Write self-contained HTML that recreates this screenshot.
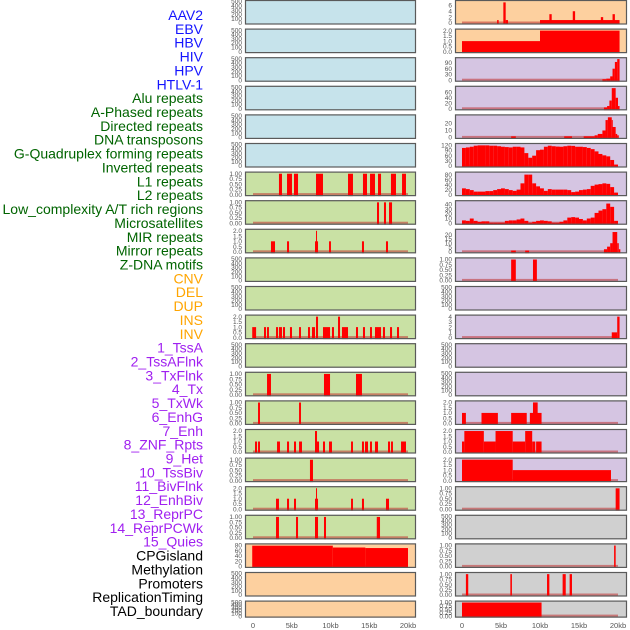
<!DOCTYPE html>
<html><head><meta charset="utf-8">
<style>
html,body{margin:0;padding:0;background:#fff;}
svg{display:block;font-family:"Liberation Sans",sans-serif;}
</style></head>
<body>
<svg id="chart" width="630" height="630" viewBox="0 0 630 630" xmlns="http://www.w3.org/2000/svg"></svg>
<script>
// ---- data ----
const featureLabels = ["AAV2","EBV","HBV","HIV","HPV","HTLV-1","Alu repeats","A-Phased repeats","Directed repeats","DNA transposons","G-Quadruplex forming repeats","Inverted repeats","L1 repeats","L2 repeats","Low_complexity A/T rich regions","Microsatellites","MIR repeats","Mirror repeats","Z-DNA motifs","CNV","DEL","DUP","INS","INV","1_TssA","2_TssAFlnk","3_TxFlnk","4_Tx","5_TxWk","6_EnhG","7_Enh","8_ZNF_Rpts","9_Het","10_TssBiv","11_BivFlnk","12_EnhBiv","13_ReprPC","14_ReprPCWk","15_Quies","CPGisland","Methylation","Promoters","ReplicationTiming","TAD_boundary"];
const labelGroups = [6,13,5,15,5];
const xTickLabels = ["0","5kb","10kb","15kb","20kb"];
const xTickValues = [0,5,10,15,20];

const emptyTicks = [0,100,200,300,400,500];
const t100 = [0,0.25,0.5,0.75,1];
const t2 = [0,0.5,1,1.5,2];

// left column
const leftYMax = [500,500,500,500,500,500,1.03,1.03,2.05,500,500,2.05,500,1.03,1.03,2.05,1.03,2.05,1.03,82,500,500];
const leftTicks = [emptyTicks,emptyTicks,emptyTicks,emptyTicks,emptyTicks,emptyTicks,t100,t100,t2,emptyTicks,emptyTicks,t2,emptyTicks,t100,t100,t2,t100,t2,t100,[0,20,40,60,80],emptyTicks,emptyTicks];
const leftDec = [0,0,0,0,0,0,2,2,1,0,0,1,0,2,2,1,2,1,2,0,0,0];
const leftL1 = [[3.35,3.74,1],[4.39,5.03,1],[5.29,5.81,1],[8.13,9.03,1],[12.26,12.9,1],[14.19,14.71,1],[15.1,15.74,1],[16.13,16.52,1],[17.8,18.45,1],[19.23,19.74,1]];
const leftLowC = [[16.0,16.26,1],[16.9,17.16,1],[17.55,17.94,1]];
const leftMIR = [[2.32,2.84,1],[4.39,4.65,1],[8.0,8.39,1],[8.13,8.26,2],[9.81,10.06,1],[14.06,14.32,1],[17.16,17.42,1]];
const leftINS = [[-0.1,0.4,1],[1.42,1.68,1],[1.81,2.06,1],[2.97,3.23,1],[3.35,3.74,1],[3.87,4.13,1],[4.77,5.03,1],[5.94,6.19,1],[7.1,7.35,1],[7.61,8.0,1],[8.13,8.39,2],[9.03,9.94,1],[10.19,10.45,1],[10.97,11.23,2],[11.48,12.26,1],[13.29,13.55,1],[14.19,14.45,1],[15.1,15.35,1],[15.74,16.52,1],[16.77,17.03,1],[17.68,17.94,1],[18.58,18.84,1]];
const leftTx = [[1.81,2.32,1],[9.16,9.94,1],[13.29,14.06,1]];
const leftTxWk = [[0.65,0.9,1],[5.94,6.19,1]];
const leftEnh = [[0.26,0.52,1],[0.65,0.9,1],[3.1,3.48,1],[4.39,4.65,1],[5.29,5.55,1],[5.94,6.32,1],[8.0,8.26,2],[8.26,8.52,1],[9.03,9.29,1],[9.81,10.19,1],[12.65,12.9,1],[14.06,14.32,1],[14.45,14.84,1],[15.1,15.35,1],[15.74,16.13,1],[17.42,17.68,1],[17.81,18.06,1],[19.1,19.74,1]];
const leftHet = [[7.35,7.74,1]];
const leftBivF = [[2.97,3.35,1],[4.39,4.65,1],[5.29,5.55,1],[8.0,8.39,1],[8.13,8.26,2],[12.65,12.9,1],[14.06,14.32,1],[17.16,17.55,1]];
const leftEnhBiv = [[2.97,3.35,1],[5.55,5.81,1],[8.0,8.39,1],[9.16,9.42,1],[15.97,16.39,1]];
const leftCPG = [[-0.1,10.3,79],[10.3,14.5,72],[14.5,20.0,70]];
const leftSeries = [null,null,null,null,null,null,leftL1,leftLowC,leftMIR,null,null,leftINS,null,leftTx,leftTxWk,leftEnh,leftHet,leftBivF,leftEnhBiv,leftCPG,null,null];

// right column
const rightYMax = [7.3,2.05,112,78,31,125,86,46,25,1.03,500,4.1,500,500,2.05,2.05,2.05,1.03,500,1.03,1.03,1.03];
const rightTicks = [[0,2,4,6],t2,[0,30,60,90],[0,20,40,60],[0,10,20],[0,30,60,90,120],[0,20,40,60,80],[0,10,20,30,40],[0,5,10,15,20],t100,emptyTicks,[0,1,2,3,4],emptyTicks,emptyTicks,t2,t2,t2,t100,emptyTicks,t100,t100,t100];
const rightDec = [0,1,0,0,0,0,0,0,0,2,0,0,0,0,1,1,1,2,0,2,2,2];
const rightAAV2 = [[4.5,4.7,1],[5.3,5.6,7],[5.6,5.9,1],[10.0,20.0,1],[11.2,11.5,3],[14.2,14.5,4],[17.8,18.1,2],[19.3,19.6,3],[20.0,20.2,1]];
const rightEBV = [[0,10,1],[10,20.2,2]];
const rightHBV = [[18.0,18.5,5],[18.5,19.0,8],[19.0,19.3,20],[19.3,19.6,60],[19.6,19.9,95],[19.9,20.2,110]];
const rightHIV = [[18.2,18.6,5],[18.6,18.9,10],[18.9,19.2,30],[19.2,19.7,75],[19.7,20.0,40],[20.0,20.2,10]];
const rightHTLV = [[6.3,6.9,1.5],[13.1,14.1,1.5],[15.6,17.0,1.5],[17.0,17.4,3],[17.4,18.0,5],[18.0,18.4,10],[18.4,18.7,25],[18.7,19.2,29],[19.2,19.3,25],[19.3,19.7,15],[19.7,19.9,5],[19.9,20.1,3]];
const rightGQuad = [105,108,112,118,120,120,120,118,118,115,112,110,108,112,112,108,75,48,60,92,95,112,118,115,113,112,115,118,117,112,112,110,105,98,85,70,62,56,35,8];
const rightL1 = [25,22,18,12,12,12,14,14,18,22,25,22,18,15,20,45,80,80,45,33,25,15,22,20,20,20,20,18,10,12,18,20,22,35,40,42,45,43,30,8];
const rightLowC = [6,5,10,5,3,4,4,1,1,1,1,5,6,6,8,10,5,1,3,5,6,5,4,1,1,3,6,12,13,12,9,6,10,12,22,27,30,42,35,5];
const rightMIR = [[6.3,6.9,1.5],[8.1,8.6,1.5],[18.2,18.6,3],[18.6,19.0,6],[19.0,19.3,10],[19.3,19.9,23],[19.9,20.1,10],[20.1,20.3,3]];
const rightZDNA = [[6.3,6.9,1],[9.1,9.6,1]];
const rightINV = [[19.2,19.9,1],[19.9,20.2,4]];
const rightEnhG = [[0,0.5,1],[2.5,4.6,1],[6.3,8.3,1],[8.7,10.2,1],[9.1,9.7,2]];
const rightEnh = [[0,0.3,1],[0.3,2.8,2],[2.8,4.3,1],[4.3,6.5,2],[6.5,8.1,1],[8.1,9.0,2],[9.0,9.4,1],[9.5,10.2,1]];
const rightZNF = [[0,6.5,2],[6.5,19.1,1]];
const rightTssBiv = [[19.7,20.2,1]];
const rightCPG = [[19.5,19.7,1]];
const rightMeth = [[0.5,0.8,1],[6.2,6.4,1],[10.9,11.2,1],[12.9,13.3,1],[13.8,14.1,1]];
const rightTAD = [[0,10.2,1]];
const rightSeries = [rightAAV2,rightEBV,rightHBV,rightHIV,rightHTLV,"GQ","L1","LC",rightMIR,rightZDNA,null,rightINV,null,null,rightEnhG,rightEnh,rightZNF,rightTssBiv,null,rightCPG,rightMeth,rightTAD];
const binnedProfiles = {GQ:rightGQuad, L1:rightL1, LC:rightLowC};

// ---- layout ----
const NS = "http://www.w3.org/2000/svg";
const svg = document.getElementById("chart");
const leftBg = ["#c6e3eb","#c6e3eb","#c6e3eb","#c6e3eb","#c6e3eb","#c6e3eb","#c9e1a4","#c9e1a4","#c9e1a4","#c9e1a4","#c9e1a4","#c9e1a4","#c9e1a4","#c9e1a4","#c9e1a4","#c9e1a4","#c9e1a4","#c9e1a4","#c9e1a4","#fdd09f","#fdd09f","#fdd09f"];
const rightBg = ["#fdd09f","#fdd09f","#d5c5e2","#d5c5e2","#d5c5e2","#d5c5e2","#d5c5e2","#d5c5e2","#d5c5e2","#d5c5e2","#d5c5e2","#d5c5e2","#d5c5e2","#d5c5e2","#d5c5e2","#d5c5e2","#d5c5e2","#d0d0d0","#d0d0d0","#d0d0d0","#d0d0d0","#d0d0d0"];
const groupColors = ["#1414ff","#006400","#ffa500","#a020f0","#000000"];

function el(tag, attrs){ const e=document.createElementNS(NS,tag); for(const k in attrs) e.setAttribute(k,attrs[k]); return e; }

// labels
let gi=0, gc=0;
featureLabels.forEach((t,i)=>{
  while(gc>=labelGroups[gi]){gi++;gc=0;}
  gc++;
  const tx = el("text",{x:203,y:15+i*13.86+5,"text-anchor":"end","font-size":"14",fill:groupColors[gi]});
  tx.textContent=t;
  
  
  svg.appendChild(tx);
});

function rowTop(i){ return i*28.6; }
function rowH(i){ return i===21 ? 17 : 24.5; }

function drawPanel(col, i, series, yMax, ticks, dec, bg){
  const px0 = col===0 ? 245 : 455, px1 = col===0 ? 416 : 627;
  const x0 = col===0 ? 253 : 462, x20 = col===0 ? 408 : 618;
  const xs = v => x0 + (x20-x0)*v/20;
  const top = rowTop(i), h = rowH(i), bot = top+h;
  const ys = v => bot - 1.5 - (h-3)*v/yMax;
  const g = el("g",{});
  
  
  const r = el("rect",{x:px0,y:top,width:px1-px0,height:h,fill:bg});
  
  
  g.appendChild(r);
  let segs = series;
  if(typeof series === "string"){
    segs = binnedProfiles[series].map((v,k)=>[k*0.5,(k+1)*0.5,v]);
  }
  if(segs){
    const base = el("rect",{x:xs(0),y:bot-3,width:xs(20)-xs(0),height:2,fill:"#c03030",opacity:"0.55"});
    
    
    g.appendChild(base);
    segs.forEach(s=>{
      const b = el("rect",{x:xs(s[0]),y:ys(s[2]),width:Math.max(1,xs(s[1])-xs(s[0])),height:ys(0)-ys(s[2])+1.5,fill:"#ff0000"});
      
      
      g.appendChild(b);
    });
  }
  const fr = el("rect",{x:px0+0.5,y:top+0.5,width:px1-px0-1,height:h-1,fill:"none",stroke:"#5a5a5a","stroke-width":"1.2"});
  
  
  g.appendChild(fr);
  ticks.forEach(t=>{
    const tt = el("text",{x:px0-3,y:ys(t)+2.2,"text-anchor":"end","font-size":"6.5",fill:"#555"});
    tt.textContent = t.toFixed(dec);
    
    
    g.appendChild(tt);
  });
  svg.appendChild(g);
}

for(let i=0;i<22;i++){
  drawPanel(0,i,leftSeries[i],leftYMax[i],leftTicks[i],leftDec[i],leftBg[i]);
  drawPanel(1,i,rightSeries[i],rightYMax[i],rightTicks[i],rightDec[i],rightBg[i]);
}

// x axes
[[253,408],[462,618]].forEach(([a,b],c)=>{
  xTickValues.forEach((v,k)=>{
    const t = el("text",{x:a+(b-a)*v/20,y:628,"text-anchor":"middle","font-size":"7.5",fill:"#555"});
    t.textContent = xTickLabels[k];
    
    
    svg.appendChild(t);
  });
});
</script>
</body></html>
